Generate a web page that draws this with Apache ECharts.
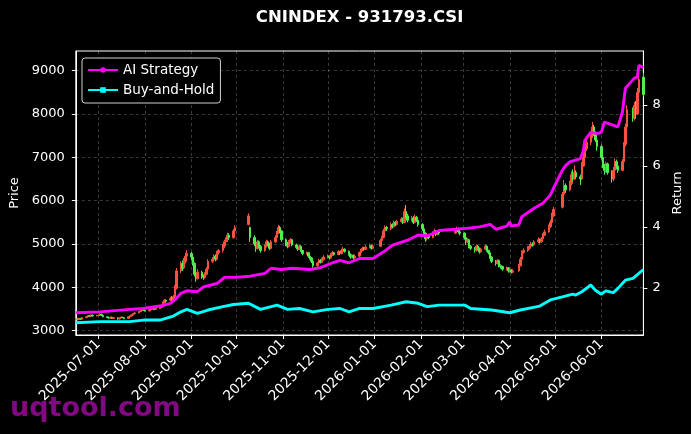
<!DOCTYPE html>
<html><head><meta charset="utf-8">
<script src="https://cdn.jsdelivr.net/npm/echarts@6/dist/echarts.min.js"></script>
<style>html,body{margin:0;padding:0;background:#000;}#c{width:691px;height:434px;}</style>
</head><body><div id="c"></div>
<script>
// ---- axis range & ticks ----
const startDate = '2025-06-16';
const endDate = '2026-06-29';
const priceTicks = [3000, 4000, 5000, 6000, 7000, 8000, 9000];
const returnTicks = [2, 4, 6, 8];
const holidays = ['2025-10-01','2025-10-02','2025-10-03','2025-10-06','2025-10-07','2025-10-08',
  '2026-01-01','2026-01-02','2026-02-16','2026-02-17','2026-02-18','2026-02-19','2026-02-20','2026-02-23',
  '2026-04-06','2026-05-01','2026-05-04','2026-05-05','2026-06-19'];

// ---- daily OHLC per month: [open, close, low, high] ----
const ohlc202506 = [[3250,3270,3235,3290],[3270,3255,3240,3285],[3255,3280,3245,3300],[3280,3265,3250,3295],[3265,3300,3255,3315],[3300,3320,3290,3340],[3320,3345,3310,3360],[3345,3330,3315,3355],[3330,3360,3320,3375],[3360,3340,3325,3370],[3340,3350,3330,3365]];
const ohlc202507 = [[3350,3360,3335,3375],[3360,3380,3350,3395],[3380,3350,3340,3390],[3350,3320,3310,3360],[3320,3300,3290,3330],[3300,3290,3275,3315],[3290,3310,3280,3325],[3310,3280,3270,3320],[3280,3300,3270,3310],[3300,3270,3255,3305],[3270,3290,3260,3300],[3290,3310,3280,3325],[3310,3300,3290,3320],[3300,3280,3265,3310],[3280,3320,3275,3330],[3320,3340,3310,3355],[3340,3360,3330,3375],[3360,3390,3350,3400],[3390,3410,3380,3425],[3410,3440,3400,3455],[3440,3460,3430,3480],[3460,3490,3450,3505],[3490,3470,3455,3500]];
const ohlc202508 = [[3470,3455,3440,3490],[3455,3480,3445,3495],[3480,3500,3465,3515],[3500,3520,3490,3540],[3520,3490,3475,3530],[3490,3510,3480,3525],[3510,3540,3500,3560],[3540,3560,3525,3580],[3560,3650,3550,3670],[3650,3700,3630,3730],[3700,3680,3650,3720],[3700,3740,3680,3780],[3740,3720,3690,3800],[3720,3780,3700,3820],[3780,3980,3760,4050],[3980,4380,3950,4450],[4380,4550,4330,4600],[4550,4450,4380,4620],[4450,4600,4420,4680],[4600,4720,4550,4800],[4720,4780,4650,4860]];
const ohlc202509 = [[4780,4700,4620,4820],[4700,4550,4500,4740],[4550,4300,4250,4580],[4300,4200,4130,4350],[4200,4350,4180,4420],[4350,4250,4200,4380],[4250,4230,4170,4300],[4230,4300,4200,4350],[4300,4420,4280,4460],[4420,4600,4400,4650],[4600,4650,4560,4700],[4650,4720,4600,4760],[4720,4650,4600,4760],[4650,4800,4620,4840],[4800,4850,4760,4880],[4850,4950,4800,5000],[4950,5050,4900,5100],[5050,5100,5000,5150],[5100,5200,5050,5260],[5200,5150,5100,5250],[5150,5300,5120,5350],[5300,5380,5270,5430]];
const ohlc202510 = [[5450,5650,5430,5710],[5380,5150,5050,5400],[5150,5000,4950,5200],[5000,4900,4820,5060],[4900,5050,4870,5100],[5050,4950,4900,5080],[4950,4850,4800,4980],[4850,4950,4820,4990],[4950,5050,4920,5100],[5050,5000,4960,5080],[5000,4900,4860,5030],[4900,5050,4880,5090],[5050,5150,5020,5200],[5150,5250,5120,5300],[5250,5380,5230,5440],[5380,5300,5250,5420],[5300,5100,5050,5320]];
const ohlc202511 = [[5100,5000,4950,5130],[5000,4950,4900,5050],[4950,5050,4920,5090],[5050,5100,5010,5140],[5100,4980,4950,5120],[4980,4920,4880,5010],[4920,4880,4840,4950],[4880,4950,4860,4980],[4950,4850,4820,4970],[4850,4780,4740,4870],[4780,4800,4750,4830],[4800,4720,4680,4820],[4720,4680,4640,4750],[4680,4600,4560,4700],[4600,4500,4450,4620],[4500,4560,4470,4590],[4560,4620,4540,4660],[4620,4580,4550,4650],[4580,4640,4560,4680],[4640,4700,4620,4740]];
const ohlc202512 = [[4700,4720,4670,4760],[4720,4680,4640,4740],[4680,4750,4660,4790],[4750,4800,4720,4840],[4800,4760,4730,4820],[4760,4820,4740,4860],[4820,4780,4750,4840],[4780,4850,4760,4890],[4850,4880,4820,4930],[4880,4830,4800,4900],[4830,4760,4730,4850],[4760,4700,4660,4780],[4700,4740,4680,4770],[4740,4680,4640,4760],[4680,4720,4660,4750],[4720,4800,4700,4830],[4800,4850,4780,4890],[4850,4900,4830,4940],[4900,4880,4850,4930],[4880,4930,4860,4970],[4930,4960,4900,5010],[4960,4900,4870,4990],[4900,4950,4880,4990]];
const ohlc202601 = [[4950,5080,4930,5120],[5080,5150,5050,5190],[5150,5300,5130,5350],[5300,5380,5270,5430],[5380,5350,5300,5420],[5350,5450,5320,5500],[5450,5400,5360,5480],[5400,5500,5380,5540],[5500,5450,5410,5530],[5450,5520,5430,5560],[5520,5580,5490,5620],[5580,5500,5460,5610],[5500,5750,5480,5820],[5750,5650,5600,5900],[5650,5550,5500,5700],[5550,5600,5520,5650],[5600,5500,5460,5640],[5500,5620,5480,5680],[5620,5550,5510,5650],[5550,5450,5400,5580]];
const ohlc202602 = [[5450,5350,5300,5480],[5350,5250,5200,5380],[5250,5120,5050,5270],[5120,5200,5080,5240],[5200,5150,5110,5230],[5150,5250,5130,5290],[5250,5300,5220,5350],[5300,5220,5180,5320],[5220,5280,5200,5320],[5280,5250,5210,5310],[5250,5300,5230,5360],[5300,5350,5270,5400],[5350,5280,5240,5380],[5280,5250,5200,5300]];
const ohlc202603 = [[5250,5150,5100,5270],[5150,5050,4980,5180],[5050,5100,5020,5140],[5100,4950,4900,5120],[4950,4900,4860,4980],[4900,4850,4800,4930],[4850,4950,4830,4990],[4950,4900,4870,4980],[4900,4820,4780,4920],[4820,4880,4800,4910],[4880,4950,4860,4990],[4950,4850,4820,4970],[4850,4800,4760,4870],[4800,4700,4660,4820],[4700,4600,4560,4720],[4600,4550,4500,4630],[4550,4620,4530,4650],[4620,4500,4460,4640],[4500,4480,4430,4530],[4480,4420,4380,4500],[4420,4450,4390,4480],[4450,4380,4340,4470]];
const ohlc202604 = [[4380,4400,4340,4440],[4400,4350,4320,4420],[4350,4380,4330,4420],[4380,4500,4360,4540],[4500,4650,4480,4700],[4650,4800,4630,4850],[4800,4850,4780,4900],[4850,4900,4820,4950],[4900,4950,4870,5000],[4950,5000,4920,5050],[5000,4980,4940,5040],[4980,5050,4960,5090],[5050,5100,5020,5150],[5100,5050,5010,5130],[5050,5120,5030,5160],[5120,5200,5100,5250],[5200,5280,5180,5330],[5280,5400,5260,5450],[5400,5500,5370,5560],[5500,5650,5480,5720],[5650,5800,5620,5860]];
const ohlc202605 = [[5850,6150,5820,6200],[6150,6350,6100,6480],[6350,6250,6180,6400],[6250,6400,6220,6460],[6400,6600,6350,6680],[6600,6500,6450,6720],[6500,6650,6480,6820],[6650,6550,6500,6700],[6550,6500,6360,6600],[6500,6800,6480,6890],[6800,7000,6780,7100],[7000,7200,6950,7300],[7200,7350,7150,7450],[7350,7500,7280,7600],[7500,7700,7450,7820],[7700,7550,7500,7750],[7550,7400,7350,7600],[7400,7250,7150,7450]];
const ohlc202606 = [[7250,7000,6950,7300],[7000,6800,6750,7050],[6800,6700,6600,6850],[6700,6850,6650,6900],[6850,6650,6600,6880],[6650,6500,6420,6700],[6500,6700,6450,6780],[6700,6900,6680,6980],[6900,6800,6720,6950],[6800,6700,6640,6850],[6700,6900,6680,6960],[6900,7300,6880,7350],[7300,7700,7250,7780],[7700,8100,7650,8200],[8100,7900,7820,8150],[7900,8200,7850,8280],[8200,8000,7900,8300],[8000,8500,7980,8600],[8500,8800,8450,8900],[8850,8450,8400,8950]];

// ---- return lines (right axis), read at dates ----
const aiReturn = [['2025-06-16',1.18],['2025-07-02',1.21],['2025-07-22',1.29],['2025-07-31',1.32],['2025-08-11',1.40],['2025-08-18',1.49],['2025-08-21',1.60],['2025-08-25',1.82],['2025-08-29',1.90],['2025-09-05',1.87],['2025-09-09',2.03],['2025-09-18',2.14],['2025-09-23',2.34],['2025-09-30',2.34],['2025-10-10',2.38],['2025-10-20',2.47],['2025-10-24',2.64],['2025-10-31',2.60],['2025-11-07',2.64],['2025-11-19',2.60],['2025-11-26',2.66],['2025-12-04',2.82],['2025-12-09',2.90],['2025-12-15',2.82],['2025-12-22',2.96],['2025-12-31',2.96],['2026-01-07',3.18],['2026-01-13',3.40],['2026-01-23',3.56],['2026-01-30',3.73],['2026-02-05',3.70],['2026-02-13',3.88],['2026-02-24',3.92],['2026-03-03',3.95],['2026-03-12',4.00],['2026-03-19',4.08],['2026-03-23',3.92],['2026-03-30',4.02],['2026-04-01',4.16],['2026-04-02',4.03],['2026-04-07',4.06],['2026-04-09',4.33],['2026-04-17',4.60],['2026-04-23',4.77],['2026-04-28',5.04],['2026-04-30',5.25],['2026-05-06',5.85],['2026-05-08',6.00],['2026-05-11',6.13],['2026-05-18',6.24],['2026-05-20',6.50],['2026-05-21',6.84],['2026-05-25',7.11],['2026-05-29',7.06],['2026-06-01',7.10],['2026-06-03',7.44],['2026-06-05',7.40],['2026-06-12',7.28],['2026-06-15',7.76],['2026-06-17',8.55],['2026-06-23',8.88],['2026-06-25',8.92],['2026-06-26',9.30],['2026-06-29',9.22]];
const bhReturn = [['2025-06-16',0.85],['2025-07-02',0.89],['2025-07-22',0.89],['2025-07-31',0.94],['2025-08-11',0.94],['2025-08-20',1.07],['2025-08-25',1.21],['2025-08-29',1.29],['2025-09-05',1.16],['2025-09-12',1.27],['2025-09-22',1.38],['2025-09-29',1.45],['2025-10-09',1.49],['2025-10-17',1.29],['2025-10-28',1.43],['2025-11-04',1.29],['2025-11-12',1.32],['2025-11-21',1.21],['2025-12-01',1.29],['2025-12-09',1.32],['2025-12-15',1.21],['2025-12-22',1.32],['2025-12-31',1.32],['2026-01-12',1.43],['2026-01-22',1.54],['2026-01-30',1.49],['2026-02-05',1.38],['2026-02-13',1.43],['2026-03-02',1.43],['2026-03-06',1.32],['2026-03-20',1.27],['2026-04-01',1.18],['2026-04-08',1.27],['2026-04-21',1.40],['2026-04-28',1.60],['2026-05-06',1.70],['2026-05-13',1.79],['2026-05-15',1.76],['2026-05-19',1.87],['2026-05-25',2.09],['2026-05-28',1.92],['2026-06-01',1.79],['2026-06-04',1.90],['2026-06-09',1.84],['2026-06-12',1.98],['2026-06-17',2.25],['2026-06-22',2.31],['2026-06-26',2.47],['2026-06-29',2.60]];

// ---- build calendar categories & aligned series ----
const monthOHLC = {'2025-06':ohlc202506,'2025-07':ohlc202507,'2025-08':ohlc202508,'2025-09':ohlc202509,'2025-10':ohlc202510,'2025-11':ohlc202511,'2025-12':ohlc202512,'2026-01':ohlc202601,'2026-02':ohlc202602,'2026-03':ohlc202603,'2026-04':ohlc202604,'2026-05':ohlc202605,'2026-06':ohlc202606};
const days = [];
{
  const p = s => { const a = s.split('-').map(Number); return Date.UTC(a[0], a[1]-1, a[2]); };
  for (let t = p(startDate); t <= p(endDate); t += 86400000) days.push(new Date(t));
}
const categories = days.map(d => d.toISOString().slice(0,10));
const used = {};
const candleData = days.map((d, i) => {
  const s = categories[i], wd = d.getUTCDay();
  if (wd === 0 || wd === 6 || holidays.includes(s)) return '-';
  const m = s.slice(0,7); used[m] = used[m] || 0;
  const arr = monthOHLC[m]; const v = arr && arr[used[m]++];
  return v ? v : '-';
});
const toLine = pairs => { const m = {}; pairs.forEach(p => m[p[0]] = p[1]); return categories.map(c => (c in m) ? m[c] : null); };
const aiData = toLine(aiReturn), bhData = toLine(bhReturn);
const isMonthStart = (idx, val) => String(val).slice(8) === '01';

const FONT = 'DejaVu Sans';
const chart = echarts.init(document.getElementById('c'), null, {renderer: 'canvas'});
chart.setOption({
  backgroundColor: '#000',
  animation: false,
  textStyle: {fontFamily: FONT},
  grid: {left: 75.8, right: 47.6, top: 51, bottom: 99, show: true, borderColor: '#fff', borderWidth: 1, containLabel: false, outerBoundsMode: 'none'},
  legend: {
    left: 82, top: 58, orient: 'vertical', backgroundColor: '#000', borderColor: '#cfcfcf', borderWidth: 1, borderRadius: 3,
    padding: [5, 6, 6, 5], itemGap: 6, itemWidth: 30, itemHeight: 7,
    textStyle: {color: '#fff', fontSize: 13.5, fontFamily: FONT},
    data: ['AI Strategy', 'Buy-and-Hold']
  },
  xAxis: {
    type: 'category', data: categories, boundaryGap: false,
    axisLine: {lineStyle: {color: '#fff', width: 1}},
    axisTick: {show: true, interval: isMonthStart, length: 4, lineStyle: {color: '#fff'}},
    axisLabel: {interval: isMonthStart, rotate: 45, color: '#fff', fontSize: 13.8, fontFamily: FONT, margin: 7},
    splitLine: {show: true, interval: isMonthStart, lineStyle: {color: 'rgba(255,255,255,0.28)', type: [3, 3], width: 0.8}}
  },
  yAxis: [{
    type: 'value', position: 'left', min: 2900, max: 9455,
    name: 'Price', nameLocation: 'middle', nameGap: 48, nameRotate: 90,
    nameTextStyle: {color: '#fff', fontSize: 13, fontFamily: FONT},
    axisLine: {show: true, lineStyle: {color: '#fff'}},
    axisTick: {show: true, length: 4, customValues: priceTicks, lineStyle: {color: '#fff'}},
    axisLabel: {color: '#fff', fontSize: 13, fontFamily: FONT, margin: 11, customValues: priceTicks, formatter: v => String(v)},
    splitLine: {show: true, lineStyle: {color: 'rgba(255,255,255,0.28)', type: [3, 3], width: 0.8}}
  }, {
    type: 'value', position: 'right', min: 0.45, max: 9.77,
    name: 'Return', nameLocation: 'middle', nameGap: 21, nameRotate: 90,
    nameTextStyle: {color: '#fff', fontSize: 13, fontFamily: FONT},
    axisLine: {show: true, lineStyle: {color: '#fff'}},
    axisTick: {show: true, length: 4, customValues: returnTicks, lineStyle: {color: '#fff'}},
    axisLabel: {color: '#fff', fontSize: 13, fontFamily: FONT, margin: 9, customValues: returnTicks, formatter: v => String(v)},
    splitLine: {show: false}
  }],
  series: [{
    type: 'candlestick', name: 'Price', xAxisIndex: 0, yAxisIndex: 0, data: candleData,
    barWidth: 2, z: 2,
    itemStyle: {color: '#f5533d', color0: '#4df04d', borderColor: '#f5533d', borderColor0: '#4df04d', borderWidth: 1}
  }, {
    type: 'line', name: 'AI Strategy', yAxisIndex: 1, data: aiData, connectNulls: true,
    symbol: 'circle', symbolSize: 5, showSymbol: false, z: 5,
    lineStyle: {color: '#ff00ff', width: 2.9}, itemStyle: {color: '#ff00ff'}
  }, {
    type: 'line', name: 'Buy-and-Hold', yAxisIndex: 1, data: bhData, connectNulls: true,
    symbol: 'rect', symbolSize: 5, showSymbol: false, z: 5,
    lineStyle: {color: '#00ffff', width: 2.9}, itemStyle: {color: '#00ffff'}
  }],
  graphic: [{
    type: 'text', z: 100, style: {text: 'CNINDEX - 931793.CSI', x: 359.6, y: 18, align: 'center', verticalAlign: 'middle',
      fill: '#fff', font: 'bold 16.5px "DejaVu Sans"'}
  }, {
    type: 'text', z: 100, style: {text: 'uqtool.com', x: 10, y: 409, align: 'left', verticalAlign: 'middle',
      fill: 'rgba(140,10,140,0.92)', font: 'bold 27px "DejaVu Sans"'}
  }]
});
</script></body></html>
